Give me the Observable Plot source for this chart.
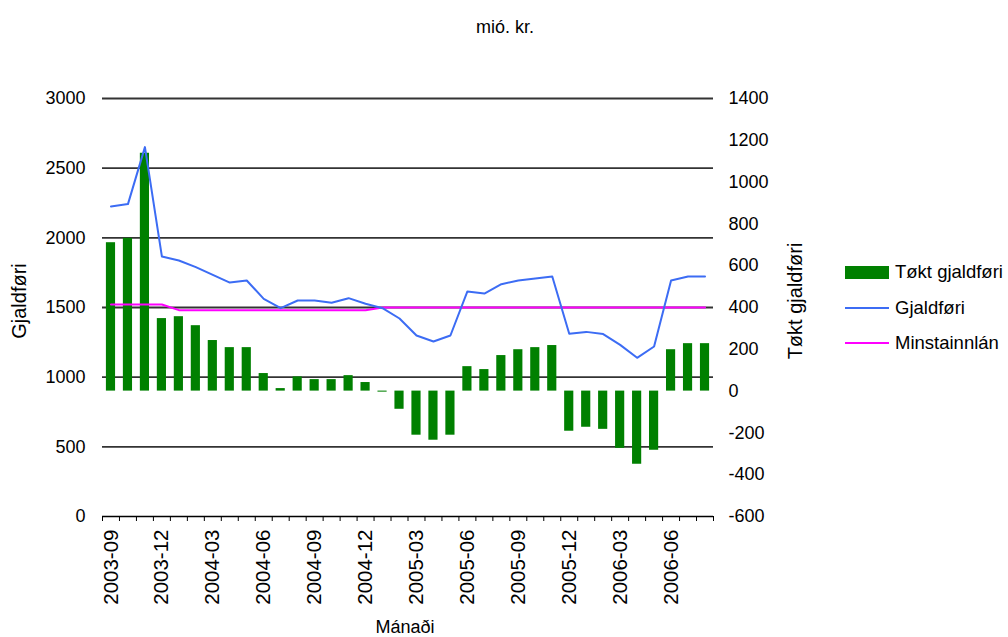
<!DOCTYPE html>
<html>
<head>
<meta charset="utf-8">
<script src="https://cdn.jsdelivr.net/npm/d3@7"></script>
<script src="https://cdn.jsdelivr.net/npm/@observablehq/plot@0.6"></script>
<style>
  html, body { margin: 0; padding: 0; background: #fff; }
  #wrap { position: relative; width: 1008px; height: 637px; font-family: "Liberation Sans", Arial, sans-serif; color: #000; }
  #wrap svg { position: absolute; left: 0; top: 0; }
  .lbl { position: absolute; font-size: 18px; white-space: nowrap; line-height: 1; }
  .rot { transform: translate(-50%, -50%) rotate(-90deg); font-size: 20px; }
  .legrow { position: absolute; left: 845px; font-size: 18.5px; display: flex; align-items: center; height: 20px; }
  .sw { width: 44px; margin-right: 6px; }
</style>
</head>
<body>
<div id="wrap"></div>
<script>
const months = ["2003-09","2003-10","2003-11","2003-12","2004-01","2004-02","2004-03","2004-04","2004-05","2004-06","2004-07","2004-08","2004-09","2004-10","2004-11","2004-12","2005-01","2005-02","2005-03","2005-04","2005-05","2005-06","2005-07","2005-08","2005-09","2005-10","2005-11","2005-12","2006-01","2006-02","2006-03","2006-04","2006-05","2006-06","2006-07","2006-08"];
const toktGjaldfori = [710,731,1138,347,356,313,242,208,208,84,12,68,55,55,74,41,-5,-87,-211,-235,-211,117,103,170,198,208,218,-192,-173,-183,-274,-350,-283,198,227,227];
const gjaldfori = [2225,2242,2651,1866,1837,1790,1734,1679,1694,1562,1495,1550,1550,1534,1567,1527,1495,1421,1299,1256,1299,1615,1600,1667,1694,1708,1722,1311,1325,1309,1232,1139,1220,1694,1722,1722];
const minstainnlan = [1521,1521,1521,1521,1481,1481,1481,1481,1481,1481,1481,1481,1481,1481,1481,1481,1500,1500,1500,1500,1500,1500,1500,1500,1500,1500,1500,1500,1500,1500,1500,1500,1500,1500,1500,1500];
const leftTicks = [0,500,1000,1500,2000,2500,3000];
const rightTicks = [-600,-400,-200,0,200,400,600,800,1000,1200,1400];
const labelEvery = 3;

// right axis (-600..1400) mapped onto left axis (0..3000)
const toLeft = v => (v + 600) * 1.5;
const toRight = v => String(Math.round(v / 1.5 - 600));

const data = months.map((m, i) => ({i, m, t: toktGjaldfori[i], g: gjaldfori[i], n: minstainnlan[i]}));
const boundaries = d3.range(months.length + 1).map(k => k - 0.5);
const labelIdx = d3.range(0, months.length, labelEvery);

const chart = Plot.plot({
  width: 1008,
  height: 637,
  marginTop: 98,
  marginBottom: 121,
  marginLeft: 102,
  marginRight: 295,
  style: {fontFamily: "Liberation Sans, Arial, sans-serif", fontSize: "18px", color: "#000", background: "#fff"},
  x: {type: "linear", domain: [-0.5, months.length - 0.5]},
  y: {domain: [0, 3000]},
  marks: [
    Plot.ruleY(leftTicks.filter(t => t > 0), {stroke: "#333", strokeWidth: 1.8}),
    Plot.rect(data, {x1: d => d.i - 0.27, x2: d => d.i + 0.27, y1: toLeft(0), y2: d => toLeft(d.t), fill: "#008000"}),
    Plot.line(data, {x: "i", y: "n", stroke: "#ff00ff", strokeWidth: 2}),
    Plot.line(data, {x: "i", y: "g", stroke: "#3c6cf4", strokeWidth: 2}),
    Plot.ruleY([0], {stroke: "#000", strokeWidth: 1.3}),
    Plot.axisY({ticks: leftTicks, tickFormat: d => String(d), tickSize: 0, tickPadding: 17, label: null, fontSize: 18}),
    Plot.axisY({anchor: "right", ticks: rightTicks.map(toLeft), tickFormat: toRight, tickSize: 0, tickPadding: 15, label: null, fontSize: 18}),
    Plot.axisX({ticks: boundaries, tickFormat: () => "", tickSize: 5, label: null, stroke: "#000"}),
    Plot.axisX({ticks: labelIdx, tickFormat: i => months[i], tickSize: 0, tickPadding: 13, tickRotate: -90, label: null, fontSize: 20.5})
  ]
});

const wrap = document.getElementById("wrap");
wrap.appendChild(chart);

function addLabel(text, x, y, rot) {
  const el = document.createElement("div");
  el.className = "lbl" + (rot ? " rot" : "");
  el.textContent = text;
  el.style.left = x + "px";
  el.style.top = y + "px";
  if (!rot) el.style.transform = "translate(-50%, -50%)";
  wrap.appendChild(el);
}
addLabel("mió. kr.", 505, 27, false);
addLabel("Mánaði", 405, 627, false);
addLabel("Gjaldføri", 19, 301, true);
addLabel("Tøkt gjaldføri", 795, 301, true);

const legend = [
  {name: "Tøkt gjaldføri", color: "#008000", h: 13},
  {name: "Gjaldføri", color: "#3c6cf4", h: 2},
  {name: "Minstainnlán", color: "#ff00ff", h: 2}
];
legend.forEach((d, k) => {
  const row = document.createElement("div");
  row.className = "legrow";
  row.style.top = (262 + k * 35.5) + "px";
  const sw = document.createElement("div");
  sw.className = "sw";
  sw.style.height = d.h + "px";
  sw.style.background = d.color;
  const tx = document.createElement("span");
  tx.textContent = d.name;
  row.appendChild(sw);
  row.appendChild(tx);
  wrap.appendChild(row);
});
</script>
</body>
</html>
